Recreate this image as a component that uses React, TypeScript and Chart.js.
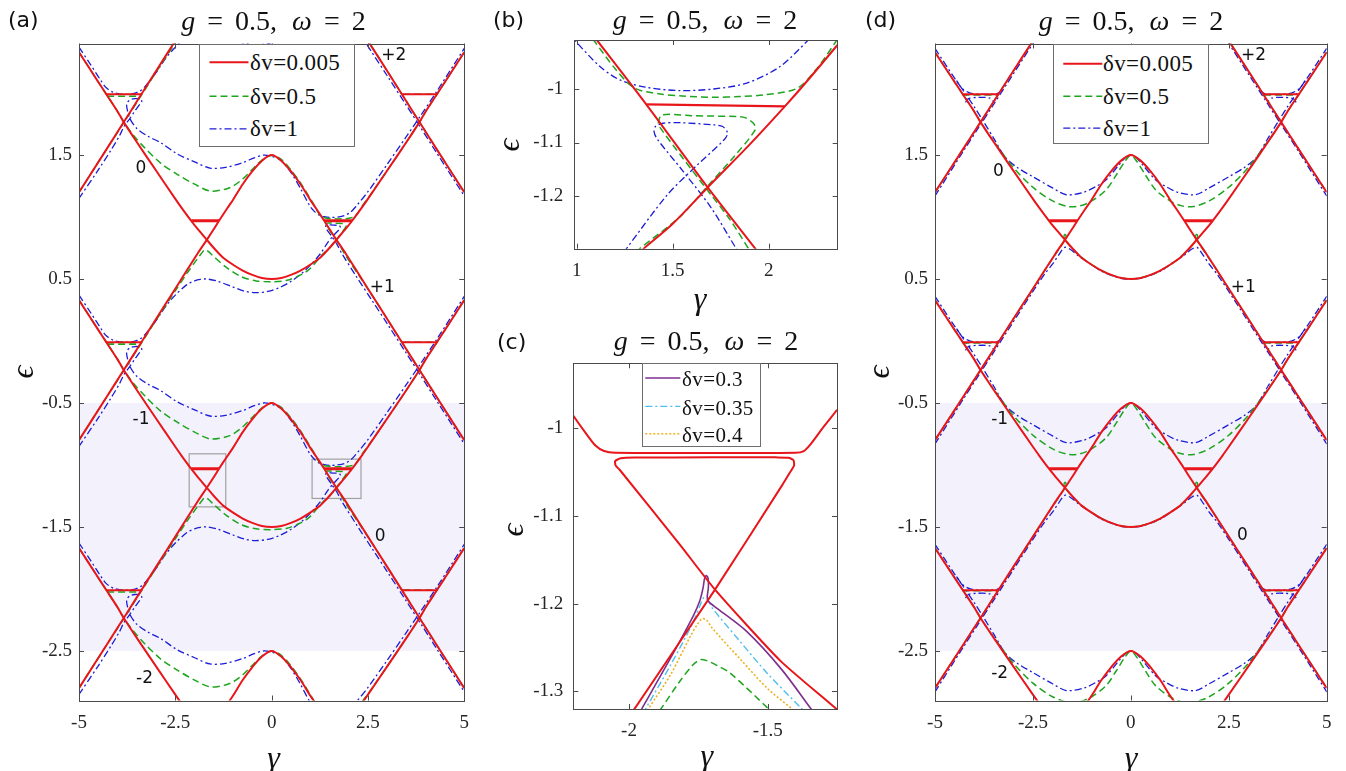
import React, { useEffect, useRef } from "react";
import { Chart, registerables } from "chart.js";

Chart.register(...registerables);

type Pt = [number, number];

const RED = "#e8161b";
const GREEN = "#1ea51e";
const BLUE = "#1c1cd6";
const PURPLE = "#7e2f8e";
const CYAN = "#4dbeee";
const ORANGE = "#edb120";
const SHADE = "#f3f2fc";
const FRAME = "#4a4a4a";
const SERIF = "Liberation Serif";

// Floquet replicas: every zone repeats after one driving quantum (ω = 2)
const ZONE_SHIFTS = [-4, -2, 0, 2];

// ---------- panels (a) and (d): δv = 0.005 (identical in both) ----------
// rising branch with minimum at ε = 0.5
const RED_U: Pt[] = [
  [-5, 2.33], [-4.5, 2.09], [-4.3, 1.995], [-4, 1.852], [-3.85, 1.772], [-3.5, 1.605], [-3, 1.375],
  [-2.5, 1.147], [-2.35, 1.08], [-2.085, 0.968], [-1.9, 0.896], [-1.682, 0.816], [-1.5, 0.75],
  [-1.35, 0.7], [-1.25, 0.67], [-1, 0.615], [-0.75, 0.568], [-0.5, 0.533], [-0.25, 0.508], [0, 0.5],
  [0.25, 0.508], [0.5, 0.533], [0.75, 0.568], [1, 0.615], [1.25, 0.67], [1.35, 0.7], [1.5, 0.75],
  [1.682, 0.816], [1.9, 0.896], [2.085, 0.968], [2.35, 1.08], [2.5, 1.147], [3, 1.375], [3.5, 1.605],
  [3.85, 1.772], [4, 1.852], [4.3, 1.995], [4.5, 2.09], [5, 2.33],
];
// falling branch with maximum at ε = 1.5
const RED_LAMBDA: Pt[] = [
  [-5, -0.8], [-4.3, -0.46], [-3.85, -0.24], [-3.5, -0.068], [-3, 0.178], [-2.5, 0.422], [-1.929, 0.702],
  [-1.682, 0.816], [-1.5, 0.903], [-1.365, 0.97], [-1.25, 1.025], [-1.104, 1.092], [-1, 1.14],
  [-0.75, 1.265], [-0.5, 1.37], [-0.25, 1.455], [0, 1.5], [0.25, 1.455], [0.5, 1.37], [0.75, 1.265],
  [1, 1.14], [1.104, 1.092], [1.25, 1.025], [1.365, 0.97], [1.5, 0.903], [1.682, 0.816], [1.929, 0.702],
  [2.5, 0.422], [3, 0.178], [3.5, -0.068], [3.85, -0.24], [4.3, -0.46], [5, -0.8],
];
// coalescence plateaus
const RED_BARS_INNER: Pt[][] = [
  [[-2.085, 0.97], [-1.365, 0.97]],
  [[1.365, 0.97], [2.085, 0.97]],
];
const RED_BARS_OUTER: Pt[][] = [
  [[-4.3, 1.99], [-3.39, 1.99]],
  [[3.39, 1.99], [4.3, 1.99]],
];

// ---------- panel (a): δv = 0.5 ----------
const GREEN_A_UP: Pt[] = [
  [-5, 2.33], [-4.5, 2.09], [-4.3, 1.995], [-4, 1.852], [-3.85, 1.772], [-3.6, 1.665], [-3.3, 1.56],
  [-2.88, 1.435], [-2.45, 1.345], [-2, 1.265], [-1.6, 1.21], [-1.2, 1.225], [-1, 1.25], [-0.74, 1.31],
  [-0.5, 1.385], [-0.25, 1.46], [0, 1.497], [0.25, 1.465], [0.5, 1.38], [0.75, 1.275], [1, 1.15],
  [1.087, 1.105], [1.2, 1.04], [1.3, 1.002], [1.434, 0.991], [1.55, 0.987], [1.712, 0.985], [1.85, 0.986],
  [1.972, 0.989], [2.146, 1.001], [2.25, 1.038], [2.36, 1.094], [2.5, 1.152], [3, 1.375], [3.5, 1.605],
  [3.85, 1.772], [4, 1.852], [4.3, 1.995], [4.5, 2.09], [5, 2.33],
];
const GREEN_A_LO: Pt[] = [
  [-5, -0.8], [-4.3, -0.46], [-3.85, -0.245], [-3.5, -0.075], [-3, 0.168], [-2.5, 0.405], [-2.2, 0.545],
  [-2, 0.632], [-1.878, 0.683], [-1.8, 0.715], [-1.744, 0.736], [-1.69, 0.733], [-1.636, 0.721],
  [-1.5, 0.681], [-1.2, 0.6], [-0.8, 0.52], [-0.4, 0.485], [0, 0.478], [0.4, 0.49], [0.8, 0.54],
  [1, 0.585], [1.33, 0.702], [1.54, 0.762], [1.68, 0.818], [1.82, 0.874], [1.93, 0.924], [1.92, 0.936],
  [1.88, 0.946], [1.851, 0.948], [1.6, 0.95], [1.443, 0.951], [1.425, 0.936], [1.43, 0.93], [1.55, 0.872],
  [1.7, 0.802], [1.8, 0.755], [1.894, 0.702], [2.5, 0.42], [3, 0.178], [3.5, -0.068], [3.85, -0.24],
  [4.3, -0.46], [5, -0.8],
];
const GREEN_A_BARS: Pt[][] = [
  [[-4.27, 1.975], [-3.42, 1.975]],
  [[3.42, 1.99], [4.32, 1.99]],
];

// ---------- panel (a): δv = 1 ----------
const BLUE_A_P: Pt[] = [
  [-5, 1.15], [-4.5, 1.38], [-4.17, 1.54], [-3.95, 1.655], [-3.83, 1.73], [-3.68, 1.795], [-3.55, 1.855],
  [-3.42, 1.91], [-3.37, 1.935], [-3.42, 1.952], [-3.55, 1.955], [-3.68, 1.945], [-3.76, 1.915],
  [-3.75, 1.87], [-3.68, 1.795], [-3.5, 1.715], [-3.2, 1.65], [-2.88, 1.6], [-2.455, 1.51], [-2, 1.445],
  [-1.6, 1.395], [-1.2, 1.4], [-0.74, 1.44], [-0.45, 1.478], [-0.2, 1.5], [0, 1.49], [0.25, 1.455],
  [0.5, 1.36], [0.75, 1.23], [0.988, 1.092], [1.121, 1.042], [1.225, 1.017], [1.365, 1.003],
  [1.538, 0.997], [1.712, 1.0], [1.885, 1.011], [2.059, 1.042], [2.207, 1.092], [2.5, 1.205],
  [3, 1.425], [3.5, 1.65], [3.85, 1.81], [4.3, 2.02], [5, 2.36],
];
const BLUE_A_Q: Pt[] = [
  [-5, 0.37], [-4.7, 0.23], [-4.45, 0.11], [-4.3, 0.045], [-4.1, 0.005], [-3.85, -0.01], [-3.6, -0.005],
  [-3.4, 0.02], [-3.25, 0.065], [-3, 0.165], [-2.75, 0.28], [-2.5, 0.37], [-2.2, 0.455], [-2, 0.485],
  [-1.85, 0.497], [-1.676, 0.5], [-1.4, 0.482], [-1, 0.435], [-0.7, 0.402], [-0.43, 0.39], [-0.1, 0.4],
  [0.2, 0.43], [0.5, 0.48], [0.8, 0.55], [1, 0.61], [1.26, 0.702], [1.469, 0.8], [1.625, 0.857],
  [1.77, 0.906], [1.785, 0.918], [1.76, 0.93], [1.712, 0.933], [1.538, 0.937], [1.45, 0.936],
  [1.41, 0.93], [1.403, 0.92], [1.42, 0.906], [1.55, 0.848], [1.7, 0.778], [1.83, 0.702], [2.2, 0.52],
  [2.6, 0.33], [3, 0.14], [3.5, -0.1], [3.85, -0.27], [4.3, -0.49], [5, -0.83],
];

// ---------- panel (d): δv = 0.5 ----------
const GREEN_D_UP: Pt[] = [
  [-5, 2.33], [-4.5, 2.09], [-4.3, 1.995], [-4, 1.852], [-3.85, 1.772], [-3.5, 1.61], [-3, 1.4],
  [-2.5, 1.24], [-2, 1.13], [-1.6, 1.085], [-1.3, 1.09], [-1, 1.13], [-0.63, 1.22], [-0.37, 1.34],
  [-0.15, 1.45], [0, 1.5], [0.15, 1.45], [0.37, 1.34], [0.63, 1.22], [1, 1.13], [1.3, 1.09],
  [1.6, 1.085], [2, 1.13], [2.5, 1.24], [3, 1.4], [3.5, 1.61], [3.85, 1.772], [4, 1.852], [4.3, 1.995],
  [4.5, 2.09], [5, 2.33],
];
const GREEN_D_LO: Pt[] = [
  [-5, -0.8], [-4.3, -0.46], [-3.85, -0.24], [-3.5, -0.068], [-3, 0.178], [-2.5, 0.422], [-2, 0.665],
  [-1.8, 0.758], [-1.72, 0.797], [-1.68, 0.822], [-1.64, 0.8], [-1.5, 0.748], [-1.35, 0.7], [-1, 0.615],
  [-0.5, 0.533], [0, 0.5], [0.5, 0.533], [1, 0.615], [1.35, 0.7], [1.5, 0.748], [1.64, 0.8],
  [1.68, 0.822], [1.72, 0.797], [1.8, 0.758], [2, 0.665], [2.5, 0.422], [3, 0.178], [3.5, -0.068],
  [3.85, -0.24], [4.3, -0.46], [5, -0.8],
];
const GREEN_D_LOOPS: Pt[][] = [
  [[-1.68, 0.818], [-1.705, 0.838], [-1.695, 0.858], [-1.668, 0.86], [-1.655, 0.84], [-1.68, 0.818]],
  [[1.68, 0.818], [1.705, 0.838], [1.695, 0.858], [1.668, 0.86], [1.655, 0.84], [1.68, 0.818]],
];
const GREEN_D_BARS: Pt[][] = [
  [[-4.3, 1.985], [-3.4, 1.985]],
  [[3.4, 1.985], [4.3, 1.985]],
];

// ---------- panel (d): δv = 1 ----------
const BLUE_D_UP: Pt[] = [
  [-5, 2.36], [-4.5, 2.12], [-4.3, 2.03], [-4, 1.89], [-3.77, 1.775], [-3.5, 1.635], [-3.2, 1.48],
  [-2.9, 1.4], [-2.5, 1.325], [-2, 1.235], [-1.65, 1.18], [-1.2, 1.2], [-0.9, 1.245], [-0.63, 1.3],
  [-0.28, 1.43], [-0.1, 1.49], [0, 1.5], [0.1, 1.49], [0.28, 1.43], [0.63, 1.3], [0.9, 1.245],
  [1.2, 1.2], [1.65, 1.18], [2, 1.235], [2.5, 1.325], [2.9, 1.4], [3.2, 1.48], [3.5, 1.635],
  [3.77, 1.775], [4, 1.89], [4.3, 2.03], [4.5, 2.12], [5, 2.36],
];
const BLUE_D_LO: Pt[] = [
  [-5, -0.83], [-4.3, -0.48], [-3.85, -0.26], [-3.5, -0.09], [-3, 0.155], [-2.5, 0.4], [-2.2, 0.54],
  [-2, 0.62], [-1.85, 0.69], [-1.69, 0.755], [-1.55, 0.74], [-1.35, 0.69], [-1, 0.615], [-0.79, 0.57],
  [-0.5, 0.53], [-0.25, 0.505], [0, 0.5], [0.25, 0.505], [0.5, 0.53], [0.79, 0.57], [1, 0.615],
  [1.35, 0.69], [1.55, 0.74], [1.69, 0.755], [1.85, 0.69], [2, 0.62], [2.2, 0.54], [2.5, 0.4],
  [3, 0.155], [3.5, -0.09], [3.85, -0.26], [4.3, -0.48], [5, -0.83],
];
const BLUE_D_DECOR: Pt[][] = [
  [[-4.45, 2.1], [-4.3, 2.035], [-4.1, 2.0], [-3.85, 1.99], [-3.6, 1.99], [-3.4, 1.998], [-3.25, 2.035]],
  [[-4.22, 1.925], [-4.15, 1.955], [-3.9, 1.965], [-3.6, 1.96], [-3.5, 1.93]],
  [[4.45, 2.1], [4.3, 2.035], [4.1, 2.0], [3.85, 1.99], [3.6, 1.99], [3.4, 1.998], [3.25, 2.035]],
  [[4.22, 1.925], [4.15, 1.955], [3.9, 1.965], [3.6, 1.96], [3.5, 1.93]],
];

// ---------- panel (b): close-up of the crossing near γ ≈ 1.7 ----------
const B_RED_LAMBDA: Pt[] = [[0.95, -0.836], [1.104, -0.908], [1.365, -1.03], [1.682, -1.184], [1.929, -1.298], [2.0, -1.331]];
const B_RED_U: Pt[] = [
  [1.25, -1.33], [1.35, -1.298], [1.5, -1.252], [1.682, -1.184], [1.9, -1.104], [2.085, -1.032],
  [2.2, -0.985], [2.35, -0.921], [2.42, -0.89],
];
const B_RED_BAR: Pt[] = [[1.365, -1.0287], [2.085, -1.0326]];
const B_GREEN_UP: Pt[] = [
  [1.05, -0.89], [1.087, -0.908], [1.2, -0.962], [1.3, -0.998], [1.434, -1.0093], [1.55, -1.013],
  [1.712, -1.0155], [1.85, -1.014], [1.972, -1.011], [2.146, -0.999], [2.25, -0.962], [2.36, -0.906],
];
const B_GREEN_LOOP: Pt[] = [
  [1.31, -1.306], [1.33, -1.298], [1.54, -1.238], [1.68, -1.182], [1.82, -1.126], [1.93, -1.076],
  [1.92, -1.064], [1.88, -1.054], [1.851, -1.0517], [1.6, -1.05], [1.443, -1.0486], [1.425, -1.064],
  [1.43, -1.07], [1.55, -1.128], [1.7, -1.198], [1.8, -1.245], [1.894, -1.298], [1.91, -1.306],
];
const B_BLUE_UP: Pt[] = [
  [0.96, -0.894], [0.988, -0.908], [1.121, -0.958], [1.225, -0.983], [1.365, -0.997], [1.538, -1.003],
  [1.712, -1.0], [1.885, -0.989], [2.059, -0.958], [2.207, -0.908], [2.23, -0.898],
];
const B_BLUE_LOOP: Pt[] = [
  [1.245, -1.306], [1.26, -1.298], [1.469, -1.199], [1.625, -1.143], [1.77, -1.094], [1.785, -1.082],
  [1.76, -1.07], [1.712, -1.067], [1.538, -1.063], [1.45, -1.064], [1.41, -1.07], [1.403, -1.08],
  [1.42, -1.094], [1.55, -1.152], [1.7, -1.222], [1.83, -1.298], [1.845, -1.306],
];

// ---------- panel (c): close-up near γ ≈ -1.7 for several δv ----------
const C_RED_TOP: Pt[] = [
  [-2.25, -0.962], [-2.2, -0.986], [-2.15, -1.008], [-2.12, -1.02], [-2.09, -1.026], [-2.05, -1.028],
  [-1.7, -1.0282], [-1.4, -1.028], [-1.37, -1.026], [-1.345, -1.018], [-1.3, -0.999], [-1.25, -0.979],
  [-1.23, -0.97],
];
const C_RED_LOOP: Pt[] = [
  [-1.99, -1.325], [-1.98, -1.32], [-1.69, -1.184], [-1.45, -1.066], [-1.42, -1.0505], [-1.405, -1.0425],
  [-1.407, -1.0365], [-1.425, -1.0336], [-1.47, -1.0332], [-1.7, -1.0332], [-1.98, -1.0334],
  [-2.03, -1.0343], [-2.05, -1.0375], [-2.048, -1.0425], [-2.033, -1.0476], [-1.816, -1.133],
  [-1.69, -1.184], [-1.455, -1.265], [-1.253, -1.32], [-1.24, -1.325],
];
const C_PURPLE: Pt[] = [
  [-1.965, -1.326], [-1.954, -1.32], [-1.85, -1.262], [-1.77, -1.215], [-1.745, -1.197], [-1.733, -1.182],
  [-1.728, -1.172], [-1.722, -1.168], [-1.715, -1.171], [-1.714, -1.182], [-1.718, -1.193],
  [-1.712, -1.198], [-1.68, -1.206], [-1.575, -1.232], [-1.45, -1.275], [-1.344, -1.32], [-1.33, -1.326],
];
const C_CYAN: Pt[] = [
  [-1.95, -1.326], [-1.94, -1.32], [-1.85, -1.27], [-1.77, -1.222], [-1.745, -1.203], [-1.73, -1.193],
  [-1.715, -1.196], [-1.7, -1.205], [-1.6, -1.243], [-1.5, -1.28], [-1.377, -1.32], [-1.36, -1.326],
];
const C_ORANGE: Pt[] = [
  [-1.94, -1.326], [-1.93, -1.32], [-1.85, -1.281], [-1.78, -1.238], [-1.75, -1.222], [-1.735, -1.217],
  [-1.72, -1.219], [-1.7, -1.228], [-1.6, -1.263], [-1.5, -1.297], [-1.413, -1.32], [-1.395, -1.326],
];
const C_GREEN: Pt[] = [
  [-1.89, -1.322], [-1.878, -1.317], [-1.82, -1.29], [-1.77, -1.27], [-1.744, -1.264], [-1.72, -1.265],
  [-1.68, -1.271], [-1.636, -1.279], [-1.5, -1.319], [-1.49, -1.322],
];

// ---------- ticks and annotations ----------
const WIDE_X_TICKS = [-5, -2.5, 0, 2.5, 5];
const WIDE_Y_TICKS = [-2.5, -1.5, -0.5, 0.5, 1.5];
const B_X_TICKS = [1, 1.5, 2];
const B_Y_TICKS = [-1.2, -1.1, -1];
const C_X_TICKS = [-2, -1.5];
const C_Y_TICKS = [-1.3, -1.2, -1.1, -1];
const SHADED_BAND: [number, number] = [-2.5, -0.5];
const ZOOM_BOXES: [number, number, number, number][] = [
  [-2.14, -1.19, -1.338, -0.91],
  [1.05, 2.32, -1.27, -0.953],
];
const ZONE_LABELS_A: [string, number, number][] = [
  ["0", -3.39, 1.395], ["+2", 3.17, 2.3], ["+1", 2.87, 0.427],
  ["-1", -3.39, -0.63], ["0", 2.82, -1.58], ["-2", -3.3, -2.72],
];
const ZONE_LABELS_D: [string, number, number][] = [
  ["0", -3.38, 1.37], ["+2", 3.13, 2.3], ["+1", 2.87, 0.43],
  ["-1", -3.35, -0.63], ["0", 2.85, -1.57], ["-2", -3.35, -2.68],
];

type Style = { color: string; width: number; dash?: number[]; tension?: number };
const S_RED: Style = { color: RED, width: 2 };
const S_RED_BAR: Style = { color: RED, width: 3, tension: 0 };
const S_RED_BAR2: Style = { color: RED, width: 2, tension: 0 };
const S_GREEN: Style = { color: GREEN, width: 1.5, dash: [7, 4] };
const S_GREEN_BAR: Style = { color: GREEN, width: 1.6, dash: [7, 4], tension: 0 };
const S_BLUE: Style = { color: BLUE, width: 1.3, dash: [7, 3, 2, 3] };

function line(pts: Pt[], st: Style, shift = 0) {
  return {
    data: pts.map(([x, y]) => ({ x, y: y + shift })),
    borderColor: st.color,
    borderWidth: st.width,
    borderDash: st.dash ?? [],
    tension: st.tension ?? 0.3,
    pointRadius: 0,
    fill: false,
    clip: 0,
  };
}

function zoned(list: [Pt[], Style][]) {
  const out: any[] = [];
  for (const s of ZONE_SHIFTS) for (const [pts, st] of list) out.push(line(pts, st, s));
  return out;
}

const datasetsA = [
  ...zoned([
    [RED_U, S_RED], [RED_LAMBDA, S_RED],
    [RED_BARS_INNER[0], S_RED_BAR], [RED_BARS_INNER[1], S_RED_BAR],
    [RED_BARS_OUTER[0], S_RED_BAR2], [RED_BARS_OUTER[1], S_RED_BAR2],
  ]),
  ...zoned([
    [GREEN_A_UP, S_GREEN], [GREEN_A_LO, S_GREEN],
    [GREEN_A_BARS[0], S_GREEN_BAR], [GREEN_A_BARS[1], S_GREEN_BAR],
  ]),
  ...zoned([[BLUE_A_P, S_BLUE], [BLUE_A_Q, S_BLUE]]),
];

const datasetsD = [
  ...zoned([
    [RED_U, S_RED], [RED_LAMBDA, S_RED],
    [RED_BARS_INNER[0], S_RED_BAR], [RED_BARS_INNER[1], S_RED_BAR],
    [RED_BARS_OUTER[0], S_RED_BAR2], [RED_BARS_OUTER[1], S_RED_BAR2],
  ]),
  ...zoned([
    [GREEN_D_UP, S_GREEN], [GREEN_D_LO, S_GREEN],
    [GREEN_D_LOOPS[0], { color: GREEN, width: 1.3 }], [GREEN_D_LOOPS[1], { color: GREEN, width: 1.3 }],
    [GREEN_D_BARS[0], S_GREEN_BAR], [GREEN_D_BARS[1], S_GREEN_BAR],
  ]),
  ...zoned([
    [BLUE_D_UP, S_BLUE], [BLUE_D_LO, S_BLUE],
    ...BLUE_D_DECOR.map((p) => [p, S_BLUE] as [Pt[], Style]),
  ]),
];

const datasetsB = [
  line(B_RED_LAMBDA, S_RED, 0), line(B_RED_U, S_RED, 0), line(B_RED_BAR, { color: RED, width: 2.2, tension: 0 }),
  line(B_GREEN_UP, S_GREEN), line(B_GREEN_LOOP, S_GREEN),
  line(B_BLUE_UP, S_BLUE), line(B_BLUE_LOOP, S_BLUE),
];

const datasetsC = [
  line(C_RED_TOP, { color: RED, width: 2 }), line(C_RED_LOOP, { color: RED, width: 2, tension: 0.2 }),
  line(C_PURPLE, { color: PURPLE, width: 1.6 }),
  line(C_CYAN, { color: CYAN, width: 1.4, dash: [7, 3, 2, 3] }),
  line(C_ORANGE, { color: ORANGE, width: 1.6, dash: [2, 2] }),
  line(C_GREEN, S_GREEN),
];

interface PanelSpec {
  key: string;
  left: number; top: number; width: number; height: number;
  area: { left: number; top: number; right: number; bottom: number };
  x: [number, number]; y: [number, number];
  xTicks: number[]; yTicks: number[];
  gapX: number; gapY: number;
  datasets: any[];
  shade?: [number, number];
  boxes?: [number, number, number, number][];
  labels?: [string, number, number][];
}

const PANELS: PanelSpec[] = [
  {
    key: "a", left: 0, top: 0, width: 480, height: 771,
    area: { left: 79, top: 43.5, right: 468, bottom: 700.5 },
    x: [-5, 5], y: [-2.9, 2.4], xTicks: WIDE_X_TICKS, yTicks: WIDE_Y_TICKS, gapX: 11, gapY: 7,
    datasets: datasetsA, shade: SHADED_BAND, boxes: ZOOM_BOXES, labels: ZONE_LABELS_A,
  },
  {
    key: "b", left: 480, top: 0, width: 380, height: 310,
    area: { left: 94.3, top: 40, right: 357.7, bottom: 248.7 },
    x: [0.9875, 2.359], y: [-1.2985, -0.9084], xTicks: B_X_TICKS, yTicks: B_Y_TICKS, gapX: 11, gapY: 11,
    datasets: datasetsB,
  },
  {
    key: "c", left: 480, top: 310, width: 380, height: 461,
    area: { left: 93.3, top: 53.3, right: 357, bottom: 399 },
    x: [-2.2008, -1.2502], y: [-1.3202, -0.9259], xTicks: C_X_TICKS, yTicks: C_Y_TICKS, gapX: 11, gapY: 10,
    datasets: datasetsC,
  },
  {
    key: "d", left: 860, top: 0, width: 486, height: 771,
    area: { left: 75, top: 43.5, right: 466.7, bottom: 700.5 },
    x: [-5, 5], y: [-2.9, 2.4], xTicks: WIDE_X_TICKS, yTicks: WIDE_Y_TICKS, gapX: 11, gapY: 7,
    datasets: datasetsD, shade: SHADED_BAND, labels: ZONE_LABELS_D,
  },
];

function makeConfig(p: PanelSpec): any {
  const framePlugin = {
    id: "frame",
    beforeDatasetsDraw(chart: any) {
      const { ctx, chartArea: a, scales } = chart;
      if (p.shade) {
        const t = scales.y.getPixelForValue(p.shade[1]);
        const b = scales.y.getPixelForValue(p.shade[0]);
        ctx.save();
        ctx.fillStyle = SHADE;
        ctx.fillRect(a.left, t, a.right - a.left, b - t);
        ctx.restore();
      }
      if (p.boxes) {
        ctx.save();
        ctx.strokeStyle = "#a0a0a0";
        ctx.lineWidth = 1.2;
        for (const [x0, x1, y0, y1] of p.boxes) {
          const px0 = scales.x.getPixelForValue(x0), px1 = scales.x.getPixelForValue(x1);
          const py0 = scales.y.getPixelForValue(y1), py1 = scales.y.getPixelForValue(y0);
          ctx.strokeRect(px0, py0, px1 - px0, py1 - py0);
        }
        ctx.restore();
      }
    },
    afterDatasetsDraw(chart: any) {
      const { ctx, chartArea: a, scales } = chart;
      ctx.save();
      ctx.strokeStyle = FRAME;
      ctx.lineWidth = 1;
      ctx.strokeRect(Math.round(a.left) + 0.5, Math.round(a.top) + 0.5,
        Math.round(a.right - a.left), Math.round(a.bottom - a.top));
      const tl = 5;
      ctx.beginPath();
      for (const v of p.xTicks) {
        const px = Math.round(scales.x.getPixelForValue(v)) + 0.5;
        ctx.moveTo(px, a.bottom); ctx.lineTo(px, a.bottom - tl);
        ctx.moveTo(px, a.top); ctx.lineTo(px, a.top + tl);
      }
      for (const v of p.yTicks) {
        const py = Math.round(scales.y.getPixelForValue(v)) + 0.5;
        ctx.moveTo(a.left, py); ctx.lineTo(a.left + tl, py);
        ctx.moveTo(a.right, py); ctx.lineTo(a.right - tl, py);
      }
      ctx.stroke();
      if (p.labels) {
        ctx.fillStyle = "#111";
        ctx.font = '17px "DejaVu Sans"';
        ctx.textAlign = "center";
        ctx.textBaseline = "middle";
        for (const [t, gx, ey] of p.labels) {
          ctx.fillText(t, scales.x.getPixelForValue(gx), scales.y.getPixelForValue(ey));
        }
      }
      ctx.restore();
    },
  };
  const tickFont = { family: SERIF, size: 19 };
  return {
    type: "line",
    data: { datasets: p.datasets },
    options: {
      animation: false,
      responsive: false,
      devicePixelRatio: 1,
      events: [],
      layout: { padding: { left: 0, top: p.area.top, right: p.width - p.area.right, bottom: 0 } },
      plugins: { legend: { display: false }, tooltip: { enabled: false }, title: { display: false } },
      elements: { point: { radius: 0 }, line: { capBezierPoints: false } },
      scales: {
        x: {
          type: "linear", min: p.x[0], max: p.x[1],
          grid: { display: false, drawTicks: false }, border: { display: false },
          ticks: { font: tickFont, color: "#262626", padding: p.gapX, autoSkip: false, maxRotation: 0,
            callback: (v: number) => String(v) },
          afterBuildTicks: (s: any) => { s.ticks = p.xTicks.map((v) => ({ value: v })); },
          afterFit: (s: any) => { s.height = p.height - p.area.bottom; },
        },
        y: {
          type: "linear", min: p.y[0], max: p.y[1],
          grid: { display: false, drawTicks: false }, border: { display: false },
          ticks: { font: tickFont, color: "#262626", padding: p.gapY, autoSkip: false,
            callback: (v: number) => String(v) },
          afterBuildTicks: (s: any) => { s.ticks = p.yTicks.map((v) => ({ value: v })); },
          afterFit: (s: any) => { s.width = p.area.left; },
        },
      },
    },
    plugins: [framePlugin],
  };
}

function ChartPanel({ spec }: { spec: PanelSpec }) {
  const ref = useRef<HTMLCanvasElement | null>(null);
  useEffect(() => {
    if (!ref.current) return;
    const chart = new Chart(ref.current, makeConfig(spec));
    return () => chart.destroy();
  }, [spec]);
  return (
    <canvas
      ref={ref}
      width={spec.width}
      height={spec.height}
      style={{ position: "absolute", left: spec.left, top: spec.top, width: spec.width, height: spec.height }}
    />
  );
}

const TITLE_TEXT = { g: "g", gv: "0.5", w: "ω", wv: "2" };

function Title({ cx, cy }: { cx: number; cy: number }) {
  return (
    <div
      style={{
        position: "absolute", left: cx - 150, top: cy - 18, width: 300, height: 36, lineHeight: "36px",
        textAlign: "center", fontFamily: SERIF, fontSize: 28, color: "#111", whiteSpace: "nowrap",
      }}
    >
      <i>{TITLE_TEXT.g}</i>
      <span style={{ margin: "0 12px" }}>=</span>
      {TITLE_TEXT.gv},
      <i style={{ marginLeft: 15 }}>{TITLE_TEXT.w}</i>
      <span style={{ margin: "0 12px" }}>=</span>
      {TITLE_TEXT.wv}
    </div>
  );
}

function Tag({ x, cy, text }: { x: number; cy: number; text: string }) {
  return (
    <div style={{ position: "absolute", left: x, top: cy - 15, height: 30, lineHeight: "30px",
      fontFamily: "DejaVu Sans", fontSize: 22, color: "#111" }}>{text}</div>
  );
}

function AxisTitle({ cx, cy, text, rotate }: { cx: number; cy: number; text: string; rotate?: boolean }) {
  return (
    <div
      style={{
        position: "absolute", left: cx - 20, top: cy - 20, width: 40, height: 40, lineHeight: "40px",
        textAlign: "center", fontFamily: SERIF, fontStyle: "italic", fontSize: 32, color: "#111",
        transform: rotate ? "rotate(-90deg)" : undefined,
      }}
    >
      {text}
    </div>
  );
}

type LegendRow = { label: string; color: string; width: number; dash?: string; y: number };

function Legend({ left, top, width, height, sx0, sx1, tx, rows, fontSize }:
  { left: number; top: number; width: number; height: number; sx0: number; sx1: number; tx: number;
    rows: LegendRow[]; fontSize: number }) {
  return (
    <div style={{ position: "absolute", left, top, width, height, background: "#fff",
      border: "1px solid #6e6e6e", boxSizing: "border-box" }}>
      <svg width={width} height={height} style={{ position: "absolute", left: -1, top: -1 }}>
        {rows.map((r) => (
          <line key={r.label} x1={sx0 - left} x2={sx1 - left} y1={r.y - top} y2={r.y - top}
            stroke={r.color} strokeWidth={r.width} strokeDasharray={r.dash} />
        ))}
      </svg>
      {rows.map((r) => (
        <div key={r.label + "t"} style={{ position: "absolute", left: tx - left - 1, top: r.y - top - 15,
          height: 30, lineHeight: "30px", fontFamily: SERIF, fontSize, color: "#111", whiteSpace: "nowrap",
          letterSpacing: "0.4px" }}>
          {r.label}
        </div>
      ))}
    </div>
  );
}

const MAIN_LEGEND = ["δv=0.005", "δv=0.5", "δv=1"];
const ZOOM_LEGEND = ["δv=0.3", "δv=0.35", "δv=0.4"];

export default function App() {
  const rowsA: LegendRow[] = [
    { label: MAIN_LEGEND[0], color: RED, width: 2, y: 61.7 },
    { label: MAIN_LEGEND[1], color: GREEN, width: 1.5, dash: "7 4", y: 95.7 },
    { label: MAIN_LEGEND[2], color: BLUE, width: 1.3, dash: "7 3 2 3", y: 128.3 },
  ];
  const rowsD: LegendRow[] = [
    { label: MAIN_LEGEND[0], color: RED, width: 2, y: 63.3 },
    { label: MAIN_LEGEND[1], color: GREEN, width: 1.5, dash: "7 4", y: 95.7 },
    { label: MAIN_LEGEND[2], color: BLUE, width: 1.3, dash: "7 3 2 3", y: 127.7 },
  ];
  const rowsC: LegendRow[] = [
    { label: ZOOM_LEGEND[0], color: PURPLE, width: 1.6, y: 378.3 },
    { label: ZOOM_LEGEND[1], color: CYAN, width: 1.4, dash: "7 3 2 3", y: 406.7 },
    { label: ZOOM_LEGEND[2], color: ORANGE, width: 1.6, dash: "2 2", y: 434 },
  ];
  return (
    <div style={{ position: "absolute", left: 0, top: 0, width: 1346, height: 771, background: "#fff", overflow: "hidden" }}>
      {PANELS.map((p) => <ChartPanel key={p.key} spec={p} />)}
      <Title cx={273.5} cy={21} />
      <Title cx={705} cy={20} />
      <Title cx={706} cy={341} />
      <Title cx={1131} cy={21} />
      <Tag x={8} cy={20} text="(a)" />
      <Tag x={493} cy={20} text="(b)" />
      <Tag x={497} cy={342} text="(c)" />
      <Tag x={865} cy={20} text="(d)" />
      <AxisTitle cx={273.5} cy={757} text="γ" />
      <AxisTitle cx={1131} cy={757} text="γ" />
      <AxisTitle cx={700} cy={298} text="γ" />
      <AxisTitle cx={706.7} cy={755} text="γ" />
      <AxisTitle cx={22} cy={372} text="ϵ" rotate />
      <AxisTitle cx={878} cy={372} text="ϵ" rotate />
      <AxisTitle cx={508} cy={145} text="ϵ" rotate />
      <AxisTitle cx={511.7} cy={530} text="ϵ" rotate />
      <Legend left={198.5} top={43.5} width={156} height={103} sx0={209} sx1={248} tx={250} rows={rowsA} fontSize={23} />
      <Legend left={1052.7} top={43.5} width={156} height={100} sx0={1063} sx1={1102} tx={1103} rows={rowsD} fontSize={23} />
      <Legend left={641.7} top={363.3} width={119} height={84} sx0={645} sx1={680} tx={682} rows={rowsC} fontSize={21} />
    </div>
  );
}
